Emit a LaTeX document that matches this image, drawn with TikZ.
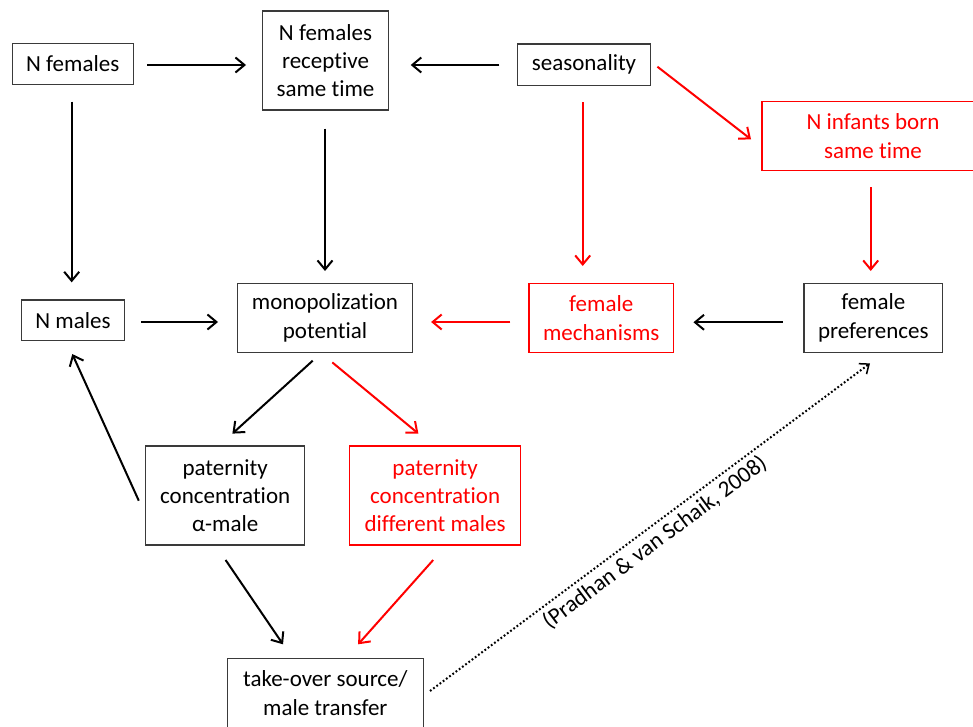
\documentclass[tikz,border=0pt]{standalone}
\usepackage{fontspec}
\setmainfont{Carlito}[Ligatures=NoCommon]
\usetikzlibrary{arrows.meta}
\definecolor{bxgray}{HTML}{3A3A3A}
\definecolor{pured}{HTML}{FF0000}
\begin{document}
\begin{tikzpicture}[x=1pt,y=-1pt,
  box/.style={draw=bxgray, line width=1.4pt, align=center, inner sep=0pt,
    font=\fontsize{23}{28.3}\selectfont, text=black},
  rbox/.style={box, draw=pured, text=pured},
  arr/.style={line width=2pt, black, -{Straight Barb[length=9pt,width=15pt]}},
  rarr/.style={arr, pured},
  dotarr/.style={line width=2pt, black, dash pattern=on 1.8pt off 2.2pt,
    -{Straight Barb[length=8pt,width=13pt,line width=1.5pt,sep=0pt]}},
  lbl/.style={font=\fontsize{23}{28}\selectfont, text=black}
]
\useasboundingbox (0,0) rectangle (973,727);

% nodes
\node[box, minimum width=121pt, minimum height=41pt] (nf) at (72.7,63.8) {N females};
\node[box, minimum width=125.6pt, minimum height=99pt] (nfr) at (325.5,60.5) {N females\\receptive\\same time};
\node[box, minimum width=132.6pt, minimum height=41.7pt] (seas) at (584,64.8) {seasonality};
\node[rbox, minimum width=222pt, minimum height=68.5pt] (ninf) at (873,136) {N infants born\\same time};
\node[box, minimum width=102.6pt, minimum height=40.3pt] (nm) at (73,320.2) {N males};
\node[box, minimum width=175.4pt, minimum height=69.4pt] (mono) at (325,318) {monopolization\\potential};
\node[rbox, minimum width=144.3pt, minimum height=69.4pt] (mech) at (601.2,318) {female\\mechanisms};
\node[box, minimum width=138.7pt, minimum height=69.4pt] (pref) at (873.3,318) {female\\preferences};
\node[box, minimum width=159pt, minimum height=99pt] (alpha) at (225.2,495.5) {paternity\\concentration\\α-male};
\node[rbox, minimum width=171.2pt, minimum height=99pt] (diff) at (435.1,495.5) {paternity\\concentration\\different males};
\node[box, minimum width=196pt, minimum height=69.4pt] (tko) at (325.3,693) {take-over source/\\male transfer};

% connectors
\draw[arr] ([shift={(13.5,1.2)}]nf.east) -- ([shift={(-16,4.5)}]nfr.west);
\draw[arr] ([shift={(-17.7,0.2)}]seas.west) -- ([shift={(21.7,4.5)}]nfr.east);
\draw[rarr] ([shift={(6.4,1.9)}]seas.east) -- ([shift={(-10.3,3.3)}]ninf.west);
\draw[rarr] ([shift={(-1.3,16)}]seas.south) -- ([shift={(-18.5,-16.6)}]mech.north);
\draw[rarr] ([shift={(-2.3,16.5)}]ninf.south) -- ([shift={(-2.6,-11.6)}]pref.north);
\draw[arr] ([shift={(-1,16.7)}]nf.south) -- ([shift={(-1.3,-17)}]nm.north);
\draw[arr] ([shift={(-0.5,18)}]nfr.south) -- ([shift={(0,-11.6)}]mono.north);
\draw[arr] ([shift={(16.2,1.8)}]nm.east) -- ([shift={(-18.6,4)}]mono.west);
\draw[rarr] ([shift={(-18,4)}]mech.west) -- ([shift={(17.7,4)}]mono.east);
\draw[arr] ([shift={(-20.7,4.3)}]pref.west) -- ([shift={(19.4,4.3)}]mech.east);
\draw[arr] ([shift={(-12.3,7.3)}]mono.south) -- ([shift={(7.2,-11.7)}]alpha.north);
\draw[rarr] ([shift={(7.3,9)}]mono.south) -- ([shift={(-16.7,-11.7)}]diff.north);
\draw[arr] ([shift={(-6.2,5.2)}]alpha.west) -- ([shift={(-0.7,13)}]nm.south);
\draw[arr] ([shift={(0.4,14.3)}]alpha.south) -- ([shift={(-42.3,-13.3)}]tko.north);
\draw[rarr] ([shift={(-1.9,14.3)}]diff.south) -- ([shift={(32.8,-13.3)}]tko.north);
\draw[dotarr] ([shift={(6,-2)}]tko.east) -- ([shift={(-3.3,10)}]pref.south)
  node[lbl, pos=0.49, below=1pt, sloped] (ref) {(Pradhan \& van Schaik, 2008)};
\end{tikzpicture}
\end{document}
